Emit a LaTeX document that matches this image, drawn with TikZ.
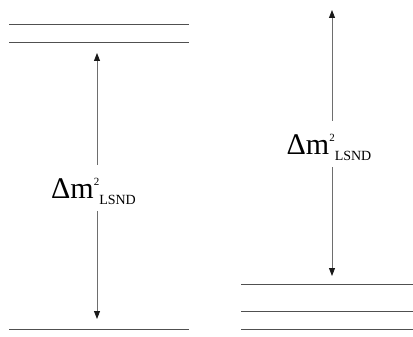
\documentclass[tikz,border=0pt]{standalone}
\usepackage{fontspec}
\setmainfont{Liberation Serif}
\usetikzlibrary{arrows.meta}
\definecolor{lvl}{RGB}{80,80,80}
\definecolor{shaft}{RGB}{110,110,110}
\newcommand{\lsndlabel}{{\fontsize{30}{30}\selectfont Δm}\raisebox{13pt}{\fontsize{11}{11}\selectfont 2}\raisebox{-6pt}{\fontsize{14}{14}\selectfont LSND}}
\tikzset{
  level/.style={draw=lvl, line width=1.1pt},
  gap/.style={draw=shaft, line width=0.9pt, -{Triangle[length=8pt,width=6pt,color=black!90]}},
  lab/.style={inner sep=0pt, minimum height=46pt, text depth=0pt},
}
\begin{document}
\begin{tikzpicture}[x=1pt,y=-1pt]
\useasboundingbox (0,0) rectangle (413,337);
% left levels
\coordinate (l1a) at (9,24.5);  \coordinate (l1b) at (189,24.5);
\coordinate (l2a) at (9,42.5);  \coordinate (l2b) at (189,42.5);
\coordinate (l3a) at (9,329.5); \coordinate (l3b) at (189,329.5);
\draw[level] (l1a) -- (l1b);
\draw[level] (l2a) -- (l2b);
\draw[level] (l3a) -- (l3b);
% right levels
\coordinate (r1a) at (241,284.5); \coordinate (r1b) at (413,284.5);
\coordinate (r2a) at (241,311.5); \coordinate (r2b) at (413,311.5);
\coordinate (r3a) at (241,329.5); \coordinate (r3b) at (413,329.5);
\draw[level] (r1a) -- (r1b);
\draw[level] (r2a) -- (r2b);
\draw[level] (r3a) -- (r3b);
% left gap
\node[lab] (labL) at (93.5,188) {\lsndlabel};
\coordinate (tL) at (97,53);
\coordinate (bL) at (97,319);
\draw[gap] (labL.north -| tL) -- (tL);
\draw[gap] (labL.south -| bL) -- (bL);
% right gap
\node[lab] (labR) at (329,144) {\lsndlabel};
\coordinate (tR) at (332,10);
\coordinate (bR) at (332,276);
\draw[gap] (labR.north -| tR) -- (tR);
\draw[gap] (labR.south -| bR) -- (bR);
\end{tikzpicture}
\end{document}
